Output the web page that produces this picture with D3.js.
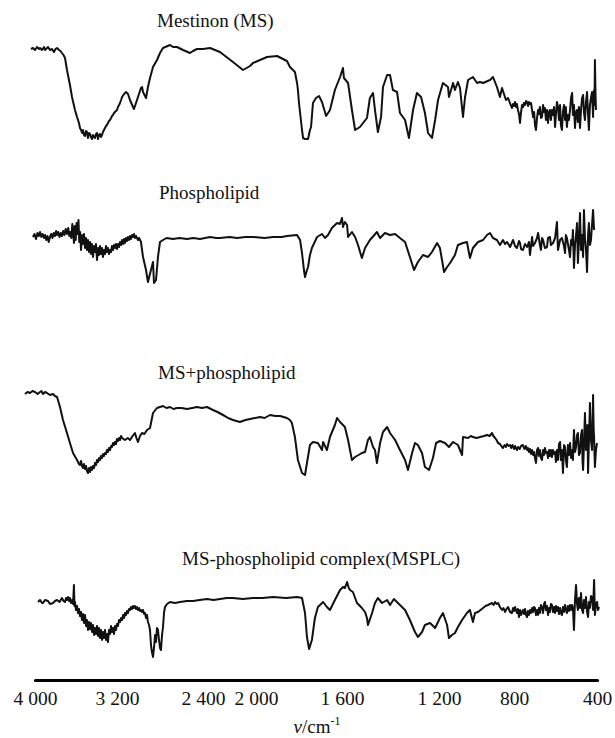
<!DOCTYPE html>
<html>
<head>
<meta charset="utf-8">
<script src="https://cdn.jsdelivr.net/npm/d3@7"></script>
<style>
  html, body { margin: 0; padding: 0; background: #fff; }
  svg { display: block; }
  text { font-family: "Liberation Serif", "Times New Roman", serif; fill: #111; }
</style>
</head>
<body>
<svg id="chart" width="615" height="738"></svg>
<script>
// ---- Data (wavenumber cm-1, relative transmittance a.u.) ----
const tickValues = [4000, 3200, 2400, 2000, 1600, 1200, 800, 400];
const tickLabels = ["4 000", "3 200", "2 400", "2 000", "1 600", "1 200", "800", "400"];
const seriesNames = ["Mestinon (MS)", "Phospholipid", "MS+phospholipid", "MS-phospholipid complex(MSPLC)"];

const mestinon = [
  [4039,91],[4020,92],[4000,90],[3980,93],[3961,91],[3951,92],[3932,90],[3912,93],[3902,90],[3883,92],
  [3873,93],[3854,90],[3834,91],[3815,88],[3800,91],[3785,92],[3766,90],[3751,89],[3737,87],[3722,85],
  [3707,82],[3688,70],[3659,55],[3639,43],[3610,30],[3590,23],[3571,17],[3561,12],[3551,10],[3541,7],
  [3532,10],[3522,5],[3512,4],[3502,9],[3493,8],[3483,2],[3473,7],[3463,6],[3454,3],[3444,1],
  [3434,5],[3424,3],[3415,2],[3405,6],[3395,7],[3385,1],[3375,5],[3366,6],[3356,3],[3346,5],
  [3337,8],[3327,10],[3317,12],[3307,14],[3298,15],[3288,17],[3278,19],[3268,20],[3258,22],[3249,24],
  [3239,25],[3229,27],[3220,28],[3210,29],[3200,30],[3191,33],[3181,35],[3172,37],[3162,40],[3153,43],
  [3134,46],[3116,48],[3098,46],[3079,40],[3051,33],[3042,31],[3014,40],[3005,43],[2977,52],[2967,53],
  [2958,48],[2930,42],[2912,53],[2893,62],[2865,73],[2828,80],[2800,87],[2772,92],[2707,95],[2679,93],
  [2642,93],[2586,90],[2521,87],[2493,89],[2456,91],[2400,91],[2347,92],[2272,88],[2174,78],[2098,70],
  [2045,74],[2023,77],[1981,80],[1949,83],[1902,84],[1856,79],[1842,73],[1828,70],[1819,68],[1809,57],
  [1805,50],[1800,37],[1786,10],[1781,2],[1772,1],[1758,1],[1749,10],[1744,13],[1735,37],[1721,42],
  [1707,44],[1693,38],[1674,24],[1656,30],[1633,50],[1609,63],[1596,72],[1592,62],[1575,57],[1559,30],
  [1546,10],[1526,13],[1497,22],[1485,42],[1472,47],[1464,30],[1452,8],[1439,23],[1431,53],[1414,65],
  [1402,65],[1390,50],[1373,48],[1361,27],[1340,20],[1324,2],[1307,30],[1291,47],[1274,43],[1258,27],
  [1245,7],[1229,2],[1216,20],[1204,40],[1179,57],[1152,53],[1147,43],[1125,57],[1115,50],[1099,58],
  [1088,52],[1072,23],[1061,43],[1045,60],[1019,63],[997,57],[981,58],[965,57],[928,60],[912,63],
  [891,53],[875,43],[864,52],[843,40],[832,42],[811,32],[805,36],[800,34],[795,38],[790,33],
  [786,36],[781,30],[776,26],[771,17],[766,28],[761,35],[756,33],[752,37],[747,35],[742,39],
  [737,38],[732,34],[728,38],[723,36],[718,37],[713,30],[708,23],[703,28],[699,15],[694,10],
  [689,22],[684,30],[680,26],[675,33],[670,22],[665,23],[660,35],[655,28],[651,32],[646,20],
  [641,30],[636,17],[631,28],[627,30],[622,20],[617,30],[612,25],[607,33],[602,13],[598,25],
  [593,38],[588,33],[583,20],[578,35],[574,15],[569,10],[564,28],[559,35],[554,20],[550,33],
  [545,13],[540,25],[535,20],[530,30],[525,42],[520,47],[516,25],[511,35],[506,12],[501,28],
  [496,30],[492,18],[487,33],[482,12],[477,30],[472,42],[467,45],[463,28],[458,20],[453,38],
  [448,48],[443,25],[439,10],[434,35],[429,42],[424,48],[419,23],[417,40],[414,50],[412,35],
  [410,80],[407,45],[405,30]
];

const phospholipid = [
  [4020,53],[4005,56],[3990,51],[3976,57],[3962,54],[3951,58],[3938,53],[3925,56],[3912,52],[3902,55],
  [3890,50],[3878,54],[3866,48],[3854,53],[3842,56],[3830,52],[3818,57],[3806,54],[3794,59],[3785,55],
  [3773,58],[3761,53],[3749,57],[3737,54],[3725,59],[3713,55],[3701,61],[3688,56],[3676,62],[3665,54],
  [3655,58],[3645,52],[3636,66],[3629,60],[3620,47],[3612,64],[3603,50],[3594,67],[3585,56],[3576,70],
  [3568,48],[3560,58],[3551,40],[3542,55],[3532,46],[3522,56],[3512,42],[3502,52],[3493,40],[3483,50],
  [3473,38],[3463,48],[3454,36],[3444,46],[3434,33],[3424,44],[3415,38],[3405,46],[3395,30],[3385,42],
  [3375,35],[3366,44],[3356,36],[3346,42],[3337,33],[3327,40],[3317,36],[3307,44],[3298,38],[3288,42],
  [3278,36],[3268,40],[3258,38],[3249,44],[3239,40],[3229,45],[3220,42],[3210,46],[3200,41],[3191,46],
  [3181,43],[3172,48],[3162,45],[3153,50],[3143,46],[3134,51],[3126,47],[3116,52],[3107,49],[3098,53],
  [3088,50],[3079,54],[3070,51],[3060,55],[3051,53],[3042,56],[3033,52],[3023,54],[3014,52],[3005,50],
  [2995,52],[2986,50],[2977,48],[2958,33],[2930,20],[2912,8],[2884,20],[2865,28],[2856,7],[2837,10],
  [2819,33],[2800,48],[2772,50],[2740,52],[2679,51],[2620,52],[2549,51],[2490,52],[2428,51],[2347,53],
  [2300,52],[2272,52],[2200,53],[2143,52],[2080,53],[2023,53],[1960,52],[1921,53],[1880,53],[1856,54],
  [1809,55],[1795,50],[1786,37],[1777,20],[1772,13],[1767,17],[1758,23],[1749,35],[1740,42],[1716,53],
  [1693,56],[1679,52],[1665,55],[1647,62],[1623,67],[1610,66],[1600,72],[1596,63],[1588,68],[1579,65],
  [1575,53],[1559,58],[1546,53],[1534,45],[1518,32],[1505,42],[1485,50],[1470,54],[1456,58],[1443,52],
  [1423,57],[1402,55],[1381,56],[1361,52],[1340,48],[1320,33],[1303,20],[1287,28],[1266,35],[1245,33],
  [1229,38],[1208,47],[1195,42],[1173,18],[1157,23],[1141,27],[1115,35],[1099,45],[1072,47],[1051,48],
  [1035,32],[1019,42],[992,48],[965,50],[944,55],[928,57],[912,52],[891,50],[875,45],[859,50],
  [848,46],[837,48],[821,43],[805,50],[795,44],[786,42],[776,49],[771,47],[766,41],[757,40],
  [747,46],[737,43],[728,48],[723,35],[713,53],[708,44],[699,47],[689,52],[684,57],[675,45],
  [670,40],[665,52],[660,50],[651,42],[641,43],[636,52],[627,53],[622,45],[612,47],[602,52],
  [593,68],[588,40],[578,50],[569,52],[559,44],[554,37],[550,55],[545,52],[535,40],[530,33],
  [525,50],[520,45],[516,60],[511,22],[506,45],[501,55],[496,67],[492,27],[487,50],[482,77],
  [477,40],[472,55],[467,33],[463,80],[458,52],[453,40],[448,18],[443,55],[439,67],[434,45],
  [429,50],[424,65],[419,80],[414,60]
];

const msPlusPhospholipid = [
  [4098,86],[4073,88],[4049,87],[4024,89],[4000,88],[3975,86],[3951,88],[3937,89],[3922,86],[3902,88],
  [3883,87],[3854,85],[3824,86],[3805,84],[3785,83],[3756,73],[3727,60],[3688,47],[3659,37],[3629,27],
  [3590,20],[3580,18],[3571,16],[3561,15],[3551,19],[3541,14],[3532,12],[3522,16],[3512,11],[3502,14],
  [3493,9],[3483,7],[3473,12],[3463,8],[3454,13],[3444,10],[3434,14],[3424,12],[3415,17],[3405,15],
  [3395,20],[3385,18],[3375,22],[3366,20],[3356,24],[3346,22],[3337,26],[3327,24],[3317,27],[3307,26],
  [3298,30],[3288,28],[3278,32],[3268,30],[3258,34],[3249,33],[3239,37],[3229,35],[3220,38],[3210,36],
  [3200,41],[3191,39],[3181,42],[3172,40],[3162,44],[3153,42],[3126,40],[3100,42],[3079,40],[3055,44],
  [3033,47],[3019,42],[3005,38],[2986,44],[2967,47],[2945,46],[2921,50],[2893,52],[2865,67],[2828,72],
  [2800,73],[2772,74],[2740,72],[2707,73],[2675,71],[2642,72],[2600,72],[2549,71],[2500,72],[2456,73],
  [2410,72],[2370,73],[2325,70],[2290,68],[2249,65],[2210,62],[2174,60],[2121,58],[2080,60],[2045,61],
  [1981,63],[1960,62],[1935,65],[1910,64],[1888,64],[1856,62],[1842,60],[1833,57],[1819,43],[1805,20],
  [1786,7],[1772,5],[1763,17],[1749,35],[1735,38],[1712,37],[1693,30],[1688,38],[1670,30],[1656,43],
  [1633,55],[1623,62],[1609,58],[1588,53],[1575,40],[1559,20],[1546,23],[1518,27],[1505,28],[1493,40],
  [1485,43],[1472,33],[1464,30],[1456,17],[1443,37],[1431,48],[1414,53],[1402,47],[1381,40],[1361,30],
  [1340,20],[1328,10],[1311,27],[1299,37],[1287,35],[1270,27],[1258,13],[1241,10],[1225,22],[1212,37],
  [1195,39],[1168,37],[1147,33],[1125,38],[1099,35],[1077,25],[1072,43],[1045,42],[1030,44],[1019,43],
  [1000,42],[981,43],[960,44],[944,45],[930,44],[917,47],[910,44],[901,42],[893,40],[885,37],
  [875,36],[864,33],[859,32],[850,35],[843,33],[837,36],[829,34],[821,35],[815,32],[808,35],
  [800,31],[795,34],[786,30],[780,33],[773,31],[766,34],[757,35],[750,31],[743,34],[737,30],
  [733,32],[728,28],[723,31],[718,26],[713,30],[708,25],[703,28],[699,22],[694,17],[689,30],
  [684,32],[680,24],[675,30],[670,22],[665,20],[660,30],[655,25],[651,32],[646,27],[641,28],
  [636,22],[631,30],[627,24],[622,30],[617,23],[612,30],[607,26],[602,28],[598,18],[593,30],
  [588,20],[583,36],[578,38],[574,20],[569,30],[564,7],[559,35],[554,33],[550,20],[545,13],
  [540,35],[535,25],[530,37],[525,22],[520,30],[516,20],[511,50],[506,28],[501,33],[496,45],
  [492,47],[487,25],[482,27],[477,45],[472,50],[470,20],[467,10],[462,40],[458,67],[453,30],
  [448,40],[446,55],[443,7],[438,45],[434,77],[429,40],[424,30],[421,60],[419,85],[416,50],
  [414,43],[412,25],[410,13],[405,30],[400,37]
];

const msplc = [
  [3971,68],[3951,70],[3932,67],[3922,67],[3902,70],[3873,69],[3854,66],[3824,67],[3805,69],[3785,70],
  [3761,68],[3737,72],[3722,69],[3707,68],[3697,72],[3688,70],[3678,73],[3668,69],[3659,72],[3649,67],
  [3639,70],[3629,66],[3620,85],[3615,64],[3610,68],[3600,60],[3590,64],[3580,57],[3571,61],[3561,54],
  [3551,58],[3541,50],[3532,56],[3522,47],[3512,55],[3502,44],[3493,50],[3483,40],[3473,48],[3463,41],
  [3454,47],[3444,38],[3434,45],[3424,35],[3415,42],[3405,36],[3395,44],[3385,34],[3375,42],[3366,32],
  [3356,40],[3346,30],[3337,38],[3327,32],[3317,40],[3307,30],[3298,36],[3288,28],[3278,40],[3268,36],
  [3258,44],[3249,38],[3239,42],[3229,36],[3220,44],[3210,40],[3200,46],[3191,44],[3181,50],[3172,48],
  [3162,52],[3153,50],[3143,55],[3134,52],[3126,57],[3116,55],[3107,59],[3098,57],[3088,61],[3079,60],
  [3070,63],[3060,61],[3051,64],[3042,62],[3033,64],[3023,61],[3014,63],[3005,60],[2995,62],[2986,59],
  [2977,60],[2967,58],[2958,60],[2948,56],[2939,57],[2930,52],[2921,55],[2912,48],[2902,45],[2893,40],
  [2884,25],[2875,18],[2865,13],[2856,22],[2846,35],[2837,28],[2828,42],[2819,40],[2809,30],[2800,22],
  [2791,20],[2781,35],[2772,43],[2762,58],[2753,63],[2735,66],[2707,68],[2660,67],[2614,68],[2550,69],
  [2493,69],[2430,70],[2370,71],[2320,70],[2272,71],[2220,72],[2174,72],[2100,71],[2023,72],[1970,72],
  [1921,73],[1860,72],[1809,73],[1786,72],[1772,57],[1763,33],[1753,21],[1740,30],[1726,52],[1712,63],
  [1688,68],[1670,63],[1656,60],[1633,70],[1609,80],[1596,83],[1588,82],[1579,88],[1572,82],[1567,80],
  [1555,78],[1538,67],[1518,62],[1505,58],[1497,52],[1493,45],[1476,57],[1464,67],[1452,72],[1435,67],
  [1414,70],[1402,65],[1386,71],[1361,65],[1340,60],[1320,50],[1299,38],[1287,33],[1270,38],[1258,45],
  [1237,47],[1216,42],[1195,52],[1179,57],[1157,45],[1147,32],[1131,35],[1115,37],[1099,43],[1077,50],
  [1051,57],[1035,60],[1019,48],[1008,57],[992,58],[965,62],[952,64],[939,65],[928,66],[917,67],
  [909,65],[901,68],[893,66],[885,67],[875,63],[864,60],[856,62],[848,58],[840,61],[832,63],
  [821,58],[811,57],[805,62],[800,59],[795,63],[786,57],[781,61],[776,53],[771,60],[766,55],
  [757,60],[752,56],[747,61],[742,55],[737,53],[733,59],[728,55],[723,60],[718,57],[713,62],
  [708,58],[704,63],[699,62],[694,55],[689,60],[684,55],[680,62],[675,57],[670,65],[665,63],
  [660,57],[655,66],[651,68],[646,60],[641,64],[636,55],[631,62],[627,58],[622,66],[617,65],
  [612,58],[607,63],[602,57],[598,64],[593,59],[588,63],[583,56],[578,62],[574,57],[569,55],
  [564,63],[559,58],[554,65],[550,60],[545,57],[540,64],[535,59],[530,65],[525,60],[520,65],
  [516,62],[511,40],[506,70],[501,85],[496,66],[492,60],[487,72],[482,62],[477,77],[472,60],
  [467,57],[463,70],[458,62],[453,73],[448,58],[443,53],[439,68],[434,62],[429,74],[424,73],
  [419,60],[414,90],[410,55],[405,66],[400,68],[395,60],[390,63]
];

const allSeries = [mestinon, phospholipid, msPlusPhospholipid, msplc];

// ---- Layout ----
const svg = d3.select("#chart");
// x axis as printed: piecewise scale matching the printed tick positions
const x = d3.scaleLinear()
  .domain(tickValues)
  .range([35, 117, 203, 256, 342, 439, 514, 597]);

// each spectrum gets its own vertical band (0..100 a.u.)
const bands = [[140, 40], [290, 190], [480, 380], [670, 570]];
const labelPos = [[157, 27], [159, 199], [158, 379], [182, 565]];

allSeries.forEach((data, i) => {
  const y = d3.scaleLinear().domain([0, 100]).range(bands[i]);
  const line = d3.line().x(d => x(d[0])).y(d => y(d[1])).curve(d3.curveLinear);
  svg.append("path")
    .datum(data)
    .attr("d", line)
    .attr("fill", "none")
    .attr("stroke", "#111")
    .attr("stroke-width", 2)
    .attr("stroke-linejoin", "round");
  svg.append("text")
    .attr("x", labelPos[i][0])
    .attr("y", labelPos[i][1])
    .attr("font-size", 19)
    .text(seriesNames[i]);
});

// ---- Axis ----
const axis = d3.axisBottom(x)
  .tickValues(tickValues)
  .tickFormat((d, i) => tickLabels[i])
  .tickSize(0)
  .tickPadding(0);
const gAxis = svg.append("g").attr("transform", "translate(0,680)").call(axis);
gAxis.select(".domain").attr("stroke", "#000").attr("stroke-width", 3.2).attr("stroke-linecap", "round");
gAxis.selectAll(".tick text")
  .attr("y", 25).attr("dy", 0)
  .attr("font-size", 19.5)
  .attr("font-family", "Liberation Serif, Times New Roman, serif")
  .attr("fill", "#111");

const title = svg.append("text")
  .attr("x", 317).attr("y", 733)
  .attr("text-anchor", "middle")
  .attr("font-size", 19);
title.append("tspan").attr("font-style", "italic").text("v");
title.append("tspan").text("/cm");
title.append("tspan").attr("font-size", 12).attr("dy", -8).text("-1");
</script>
</body>
</html>
